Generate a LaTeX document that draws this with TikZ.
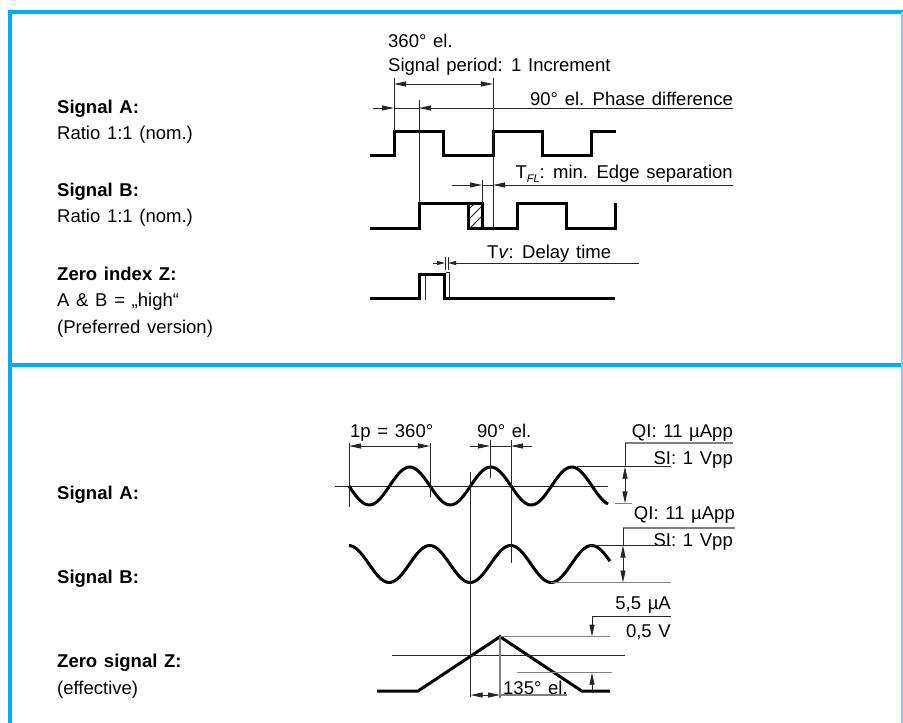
\documentclass[tikz,border=0pt]{standalone}
\usepackage{fontspec}
\setmainfont{Liberation Sans}[WordSpace=1.3]
\usetikzlibrary{arrows.meta}
\definecolor{framecyan}{HTML}{00AEEF}

\begin{document}
\begin{tikzpicture}[x=1pt, y=-1pt, font=\fontsize{18.5}{22}\selectfont, >={Triangle[length=12pt, width=5pt]},
  wave/.style={line width=3pt},
  fine/.style={line width=0.9pt, black!85},
  faint/.style={line width=1.4pt, black!50},
  lbl/.style={anchor=base west, inner sep=0pt},
  rlbl/.style={anchor=base east, inner sep=0pt},
  head/.style={lbl, font=\fontsize{18.5}{22}\selectfont\bfseries}]
\useasboundingbox (0,0) rectangle (903,723);
\draw[framecyan, line width=4pt] (10,723) -- (10,12) -- (903,12);
\draw[framecyan, line width=4pt] (10,365) -- (903,365);
\draw[framecyan!55, line width=1.5pt] (902,12) -- (902,723);

\node[head] (sigA) at (57,113) {Signal A:};
\node[lbl] (ratA) at (57,139) {Ratio 1:1 (nom.)};
\node[head] (sigB) at (57,196) {Signal B:};
\node[lbl] (ratB) at (57,222) {Ratio 1:1 (nom.)};
\node[head] (zidx) at (57,280) {Zero index Z:};
\node[lbl] (zhigh) at (57,306) {A \& B = „high“};
\node[lbl] (zpref) at (57,333) {(Preferred version)};

\node[lbl] (per) at (388,47) {360° el.};
\node[lbl] (inc) at (388,71) {Signal period: 1 Increment};
\node[rlbl] (phase) at (733,105) {90° el. Phase difference};
\node[rlbl] (tfl) at (733,178) {T\raisebox{-0.45ex}{\fontsize{11}{11}\selectfont\itshape FL}: min. Edge separation};
\node[lbl] (tv) at (487,258) {T\textit{v}: Delay time};

\draw[wave] (370,155) -- (394,155) -- (394,131) -- (443,131) -- (443,155) -- (493,155) -- (493,131)
  -- (542,131) -- (542,155) -- (591,155) -- (591,131) -- (616,131);
\begin{scope}
  \clip (468,203) rectangle (482,228);
  \foreach \k in {0,10,20,30}
    \draw[fine] (466,212+\k) -- (486,192+\k);
\end{scope}
\draw[wave] (370,228) -- (419,228) -- (419,203) -- (468,203) -- (468,228) -- (517,228) -- (517,203)
  -- (566,203) -- (566,228) -- (615,228) -- (615,203);
\draw[wave] (482,228) -- (482,203) -- (468,203);
\draw[wave] (370,298) -- (419,298) -- (419,274) -- (444,274) -- (444,298) -- (615,298);

\draw[fine] (394,78) -- (394,131);
\draw[fine] (493,78) -- (493,228);
\draw[fine] (419,100) -- (419,203);
\draw[fine, <->] (394,84) -- (493,84);
\draw[fine, ->] (373,108) -- (394,108);
\draw[fine] (394,108) -- (419,108);
\draw[fine, ->] (733,108) -- (419,108);

\draw[fine] (482,180) -- (482,203);
\draw[fine, ->] (452,185) -- (482,185);
\draw[fine] (482,185) -- (493,185);
\draw[fine, ->] (733,185) -- (493,185);

\draw[fine] (445,257) -- (445,270);
\draw[fine] (448,257) -- (448,270);
\draw[fine, -{Triangle[length=8pt, width=4pt]}] (433,263) -- (445,263);
\draw[fine, -{Triangle[length=8pt, width=4pt]}] (639,263) -- (448,263);
\draw[fine] (446,272) -- (449,272) -- (449,300);
\draw[fine] (425,276) -- (425,300);

\node[head] (sinA) at (57,499) {Signal A:};
\node[head] (sinB) at (57,583) {Signal B:};
\node[head] (zsig) at (57,667) {Zero signal Z:};
\node[lbl] (zeff) at (57,694) {(effective)};

\draw[fine] (335,486) -- (608,486);
\draw[wave, domain=349:608, samples=120] plot (\x, {486+19*sin(4.4444*(\x-349))});
\draw[wave, domain=349:610, samples=120] plot (\x, {564-18.5*cos(4.4444*(\x-510.7))});

\node[lbl] (onep) at (350,437) {1p = 360°};
\draw[fine] (349,443) -- (349,507);
\draw[fine] (430,443) -- (430,497);
\draw[fine, <->] (349,446) -- (430,446);
\node[lbl] (ninety) at (477,437) {90° el.};
\draw[fine] (490,440) -- (490,478);
\draw[fine] (511,440) -- (511,563);
\draw[fine, ->] (470,446) -- (490,446);
\draw[fine] (490,446) -- (511,446);
\draw[fine, ->] (532,446) -- (511,446);
\draw[fine] (470.5,472) -- (470.5,697);

\node[rlbl] (qiA) at (733,437) {QI: 11 µApp};
\draw[faint] (625,443) -- (733,443);
\node[rlbl] (siA) at (733,464.5) {SI: 1 Vpp};
\draw[fine] (577,466.7) -- (671,466.7);
\draw[fine] (625,443) -- (625,466.7);
\draw[fine, <->] (625,466.7) -- (625,503.3);
\draw[faint] (615,503.3) -- (632,503.3);

\node[rlbl] (qiB) at (735,519.5) {QI: 11 µApp};
\draw[faint] (623,528) -- (735,528);
\node[rlbl] (siB) at (733,546) {SI: 1 Vpp};
\draw[fine] (590,545.5) -- (671,545.5);
\draw[fine] (623,528) -- (623,545.5);
\draw[fine, <->] (623,545.5) -- (623,582.5);
\draw[faint] (551,582.5) -- (671,582.5);

\draw[wave] (377,691) -- (418,691) -- (500,636.7) -- (581.7,691) -- (610,691);
\draw[fine] (392,655) -- (625,655);
\draw[faint] (500,636.7) -- (610,636.7);
\node[rlbl] (ua) at (671,609.5) {5,5 µA};
\draw[fine] (592,616) -- (671,616);
\draw[fine, ->] (592,616) -- (592,636.7);
\node[rlbl] (volt) at (671,637.5) {0,5 V};
\draw[faint] (517,672.7) -- (612,672.7);
\draw[fine, ->] (592,693) -- (592,672.7);
\draw[faint] (500,636.7) -- (500,698);
\draw[fine, <->] (470.5,695) -- (500,695);
\draw[faint] (500,695) -- (567,695);
\node[lbl] (deg) at (503,694) {135° el.};
\end{tikzpicture}
\end{document}
